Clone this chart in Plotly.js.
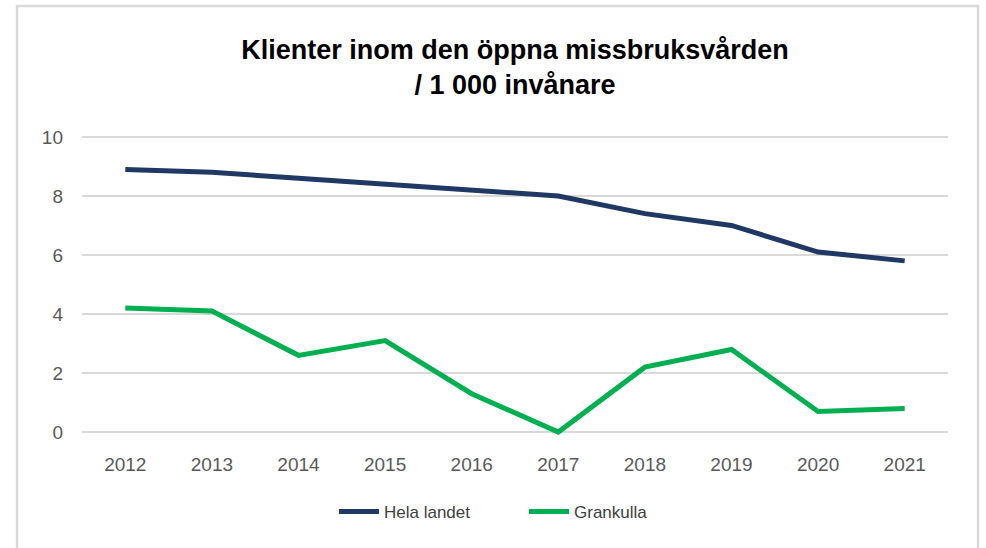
<!DOCTYPE html>
<html>
<head>
<meta charset="utf-8">
<script src="https://cdn.plot.ly/plotly-3.0.1.min.js"></script>
<style>
html,body{margin:0;padding:0;background:#fff;}
#chart{width:986px;height:548px;}
</style>
</head>
<body>
<div id="chart"></div>
<script>
const years = ['2012','2013','2014','2015','2016','2017','2018','2019','2020','2021'];
const helaLandet = [8.9, 8.8, 8.6, 8.4, 8.2, 8.0, 7.4, 7.0, 6.1, 5.8];
const grankulla = [4.2, 4.1, 2.6, 3.1, 1.3, 0.0, 2.2, 2.8, 0.7, 0.8];
const yTicks = [0, 2, 4, 6, 8, 10];
const seriesNames = ['Hela landet', 'Grankulla'];
const titleText = 'Klienter inom den öppna missbruksvården<br>/ 1 000 invånare';

const W = 986, H = 548;
const M = {l: 82, r: 38, t: 131, b: 110};
const pw = W - M.l - M.r, ph = H - M.t - M.b;
const px2x = p => (p - M.l) / pw;
const py2y = p => (H - M.b - p) / ph;

const traces = [
  {x: years, y: helaLandet, name: seriesNames[0], type: 'scatter', mode: 'lines',
   line: {color: '#203864', width: 5}},
  {x: years, y: grankulla, name: seriesNames[1], type: 'scatter', mode: 'lines',
   line: {color: '#00b050', width: 5}}
];

const layout = {
  width: W, height: H,
  margin: M,
  paper_bgcolor: '#ffffff',
  plot_bgcolor: '#ffffff',
  showlegend: true,
  title: {
    text: titleText,
    font: {family: 'Liberation Sans, Arial, sans-serif', size: 27, color: '#000000', weight: 'bold'},
    x: 0.5, xref: 'paper', xanchor: 'center',
    y: 1 - 59/H, yref: 'container', yanchor: 'middle'
  },
  xaxis: {
    type: 'category',
    range: [-0.5, 9.5],
    showgrid: false, zeroline: false, showline: false,
    ticks: '', ticklabelstandoff: 13,
    tickfont: {family: 'Liberation Sans, Arial, sans-serif', size: 19, color: '#595959'},
    fixedrange: true
  },
  yaxis: {
    range: [-0.2, 10.2],
    tickvals: yTicks,
    showgrid: true, gridcolor: '#d9d9d9', gridwidth: 1.5,
    zeroline: false, showline: false,
    ticks: '', ticklabelstandoff: 18,
    tickfont: {family: 'Liberation Sans, Arial, sans-serif', size: 19, color: '#595959'},
    fixedrange: true
  },
  legend: {
    orientation: 'h',
    x: px2x(524), xref: 'paper', xanchor: 'center',
    y: (H - 512) / H, yref: 'container', yanchor: 'middle',
    font: {family: 'Liberation Sans, Arial, sans-serif', size: 17, color: '#404040'},
    itemwidth: 40,
    entrywidth: 135, entrywidthmode: 'pixels',
    bgcolor: 'rgba(0,0,0,0)'
  },
  shapes: [
    {type: 'rect', xref: 'paper', yref: 'paper',
     x0: px2x(17), x1: px2x(978), y0: py2y(570), y1: py2y(6),
     line: {color: '#d9d9d9', width: 2.5}, fillcolor: 'rgba(0,0,0,0)', layer: 'below'}
  ]
};

Plotly.newPlot('chart', traces, layout, {displayModeBar: false, staticPlot: true});
</script>
</body>
</html>
